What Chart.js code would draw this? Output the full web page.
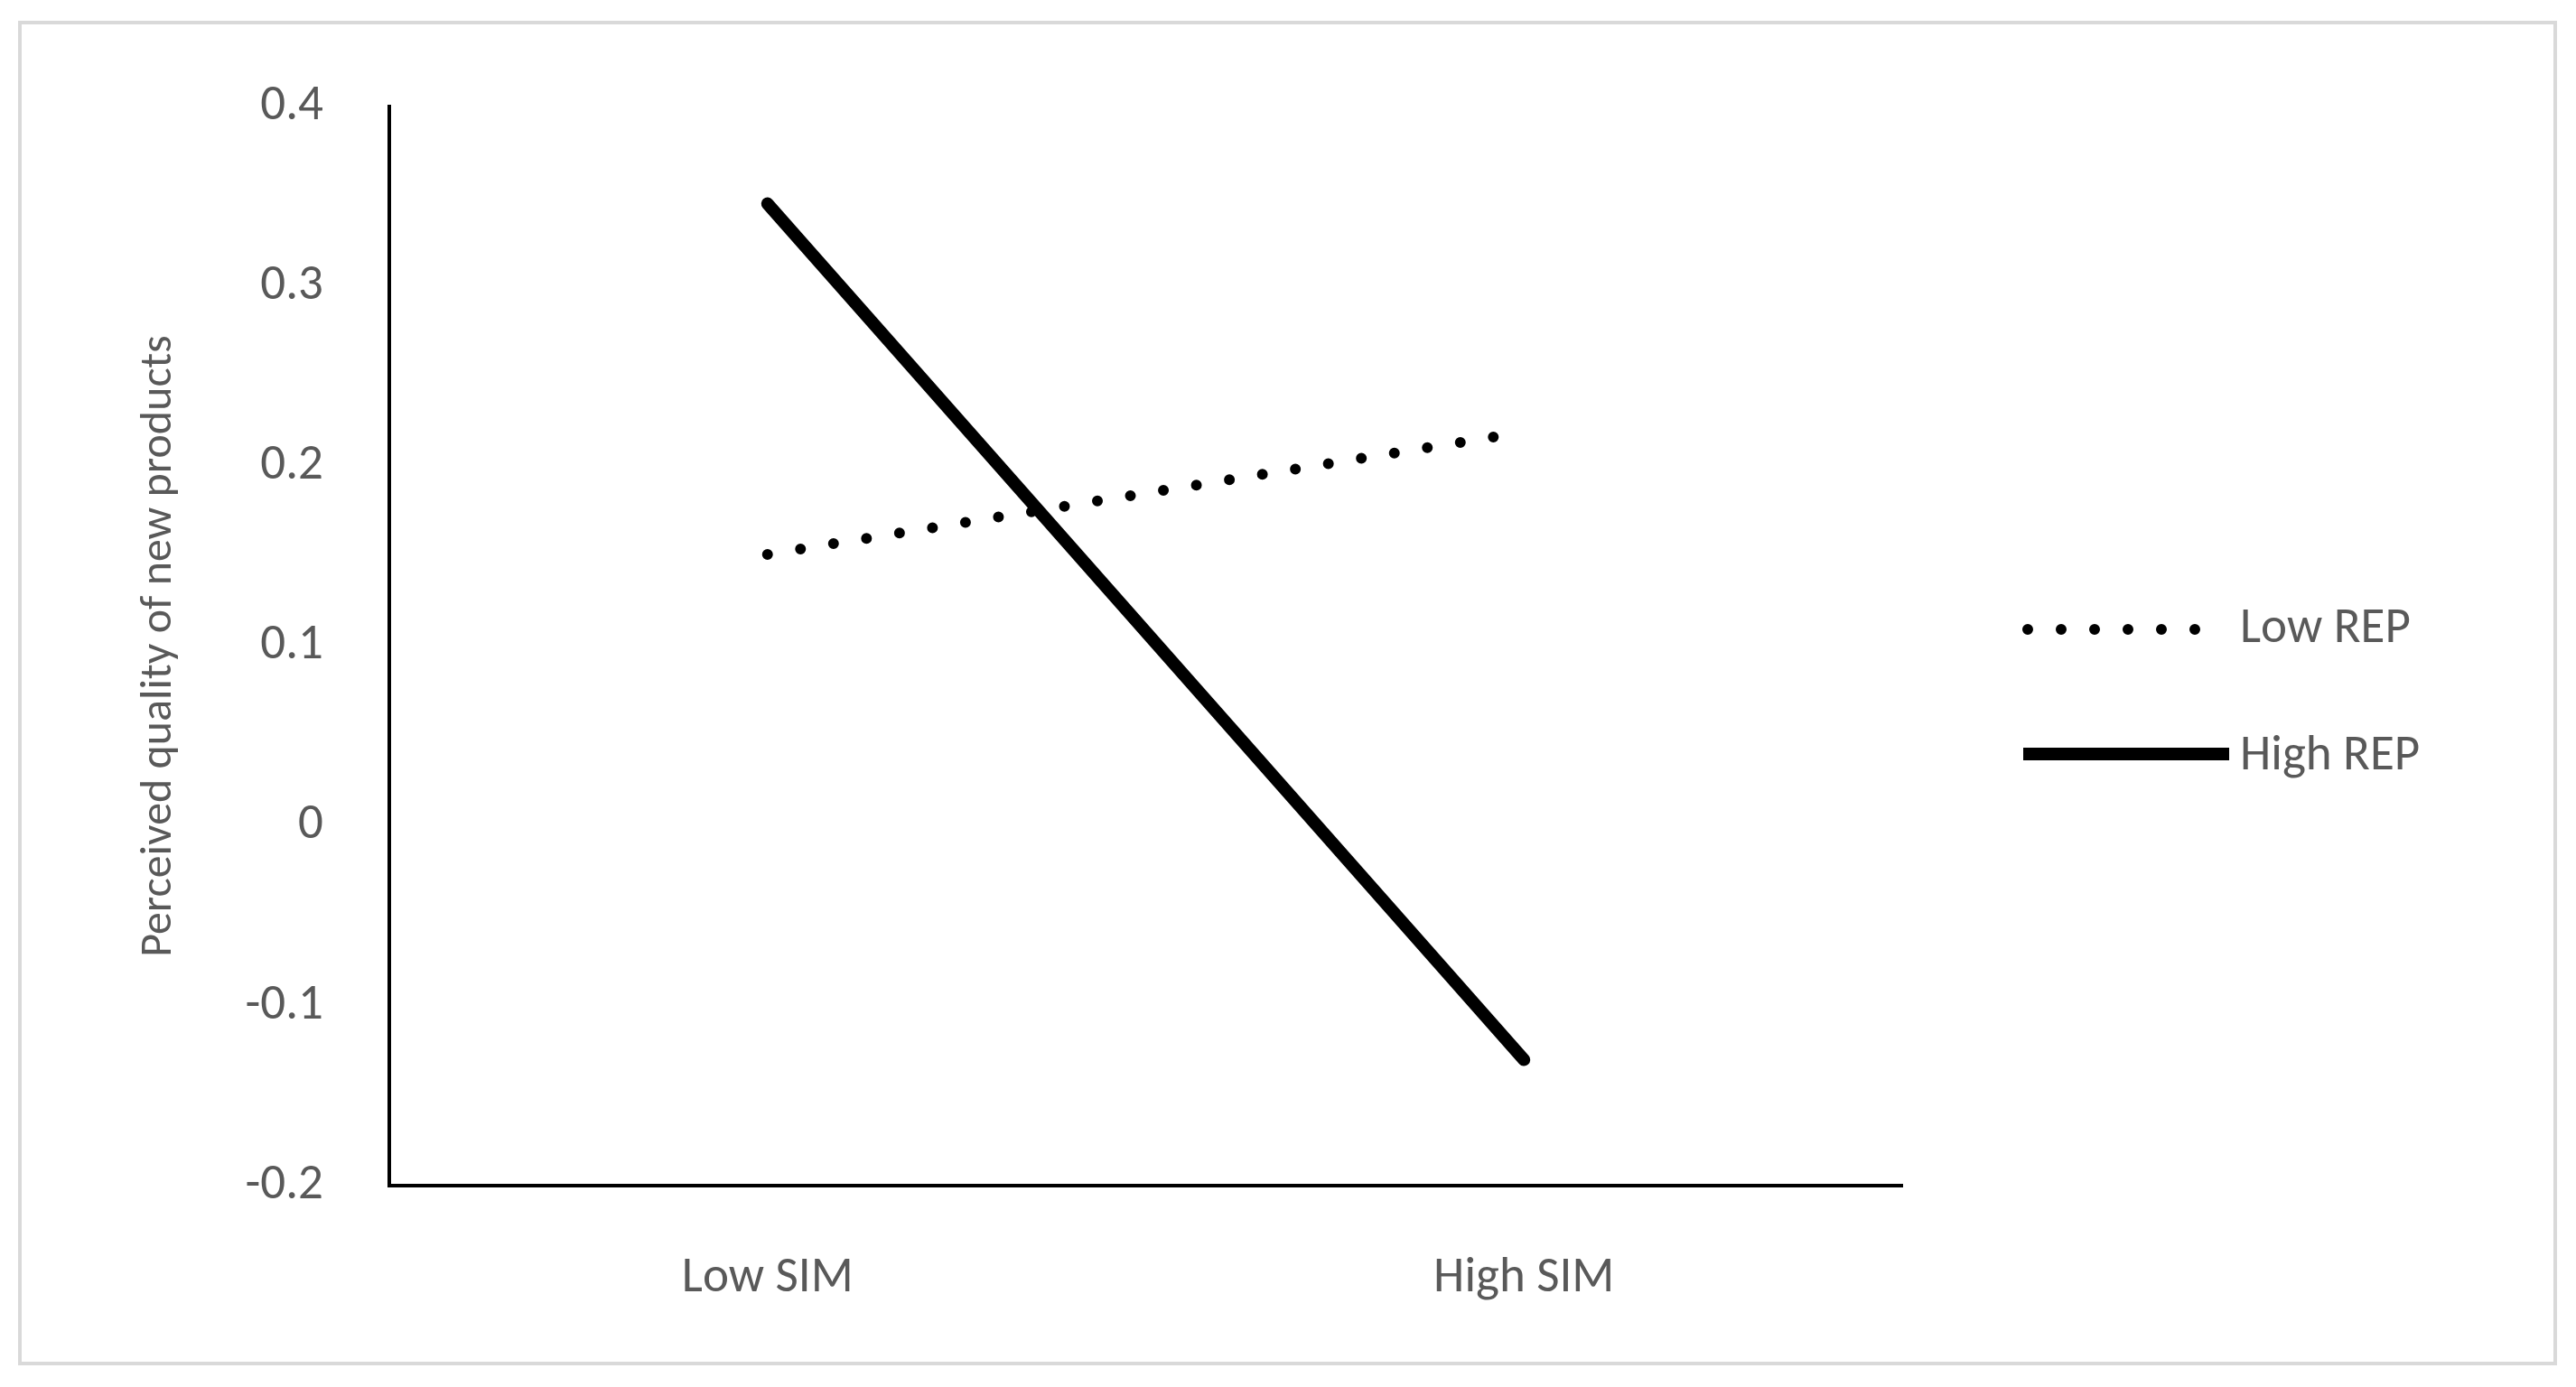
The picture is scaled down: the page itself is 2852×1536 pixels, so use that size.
<!DOCTYPE html>
<html>
<head>
<meta charset="utf-8">
<script src="https://cdn.jsdelivr.net/npm/chart.js@4"></script>
<style>
  html, body { margin: 0; padding: 0; background: #fff; }
  #wrap { width: 2852px; height: 1536px; }
</style>
</head>
<body>
<div id="wrap"><canvas id="chart" width="2852" height="1536"></canvas></div>
<script>
// data
const categories = ["Low SIM", "High SIM"];
const lowRep = [0.151, 0.219];
const highRep = [0.346, -0.13];
const yTicks = [0.4, 0.3, 0.2, 0.1, 0, -0.1, -0.2];

const grey = "#595959";

// frame + legend drawn on the canvas
const extras = {
  id: "extras",
  beforeDraw(chart) {
    const c = chart.ctx;
    c.save();
    c.fillStyle = "#fff";
    c.fillRect(0, 0, chart.width, chart.height);
    c.strokeStyle = "#d9d9d9";
    c.lineWidth = 4;
    c.strokeRect(22, 25, 2807, 1485);
    c.restore();
  },
  afterDraw(chart) {
    const c = chart.ctx;
    c.save();
    c.strokeStyle = "#000";
    c.lineCap = "round";
    // Low REP dots
    c.lineWidth = 12;
    c.setLineDash([0, 37]);
    c.beginPath(); c.moveTo(2245, 697); c.lineTo(2440, 697); c.stroke();
    // High REP solid
    c.setLineDash([]);
    c.lineCap = "butt";
    c.lineWidth = 14;
    c.beginPath(); c.moveTo(2240, 835); c.lineTo(2468, 835); c.stroke();
    c.fillStyle = grey;
    c.font = "55px Calibri, Carlito, 'Open Sans', sans-serif";
    c.textBaseline = "middle";
    c.fillText("Low REP", 2480, 697);
    c.fillText("High REP", 2480, 838);
    c.restore();
  }
};

new Chart(document.getElementById("chart"), {
  type: "line",
  data: {
    labels: categories,
    datasets: [
      {
        label: "Low REP",
        data: lowRep,
        borderColor: "#000",
        borderWidth: 12,
        borderDash: [0, 37],
        borderCapStyle: "round",
        pointRadius: 0,
        fill: false
      },
      {
        label: "High REP",
        data: highRep,
        borderColor: "#000",
        borderWidth: 14,
        borderCapStyle: "round",
        pointRadius: 0,
        fill: false
      }
    ]
  },
  options: {
    responsive: false,
    animation: false,
    devicePixelRatio: 1,
    layout: { padding: { left: 0, right: 746, top: 118, bottom: 0 } },
    plugins: { legend: { display: false }, tooltip: { enabled: false } },
    scales: {
      x: {
        offset: true,
        grid: { display: false, drawTicks: false },
        border: { color: "#000", width: 4 },
        ticks: { color: grey, font: { size: 55, family: "Calibri, Carlito, 'Open Sans', sans-serif" }, padding: 70 },
        afterFit(s) { s.height = 223; }
      },
      y: {
        min: -0.2,
        max: 0.4,
        afterBuildTicks(s) { s.ticks = yTicks.map(v => ({ value: v })); },
        grid: { display: false, drawTicks: false },
        border: { color: "#000", width: 4 },
        ticks: { color: grey, font: { size: 55, family: "Calibri, Carlito, 'Open Sans', sans-serif" }, padding: 73 },
        title: {
          display: true,
          text: "Perceived quality of new products",
          color: grey,
          font: { size: 50, family: "Calibri, Carlito, 'Open Sans', sans-serif" },
          padding: { top: 146 }
        },
        afterFit(s) { s.width = 431; }
      }
    }
  },
  plugins: [extras]
});
</script>
</body>
</html>
